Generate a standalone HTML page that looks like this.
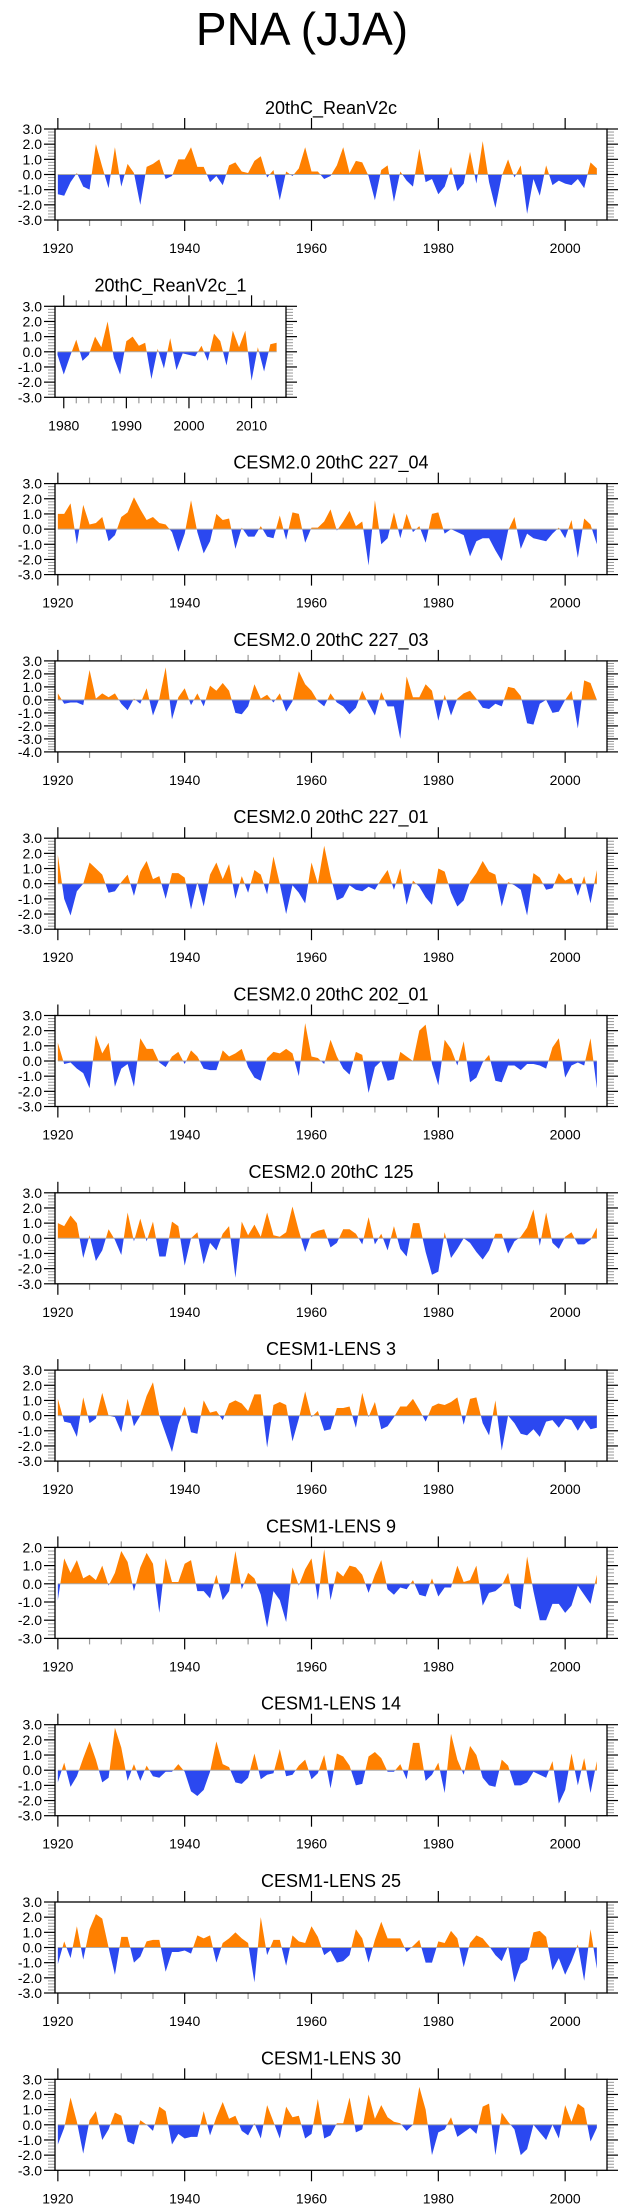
<!DOCTYPE html>
<html><head><meta charset="utf-8"><title>PNA (JJA)</title>
<style>
html,body{margin:0;padding:0;background:#fff;}
svg{display:block;font-family:"Liberation Sans",Arial,sans-serif;}
</style></head>
<body>
<svg id="fig" width="623" height="2209" viewBox="0 0 623 2209">
<text x="302" y="45" font-size="46" text-anchor="middle">PNA (JJA)</text>
</svg>
<script>
const titles = ["20thC_ReanV2c","20thC_ReanV2c_1","CESM2.0 20thC 227_04","CESM2.0 20thC 227_03","CESM2.0 20thC 227_01","CESM2.0 20thC 202_01","CESM2.0 20thC 125","CESM1-LENS 3","CESM1-LENS 9","CESM1-LENS 14","CESM1-LENS 25","CESM1-LENS 30"];
const yMins = [-3,-3,-3,-4,-3,-3,-3,-3,-3,-3,-3,-3];
const yMaxs = [3,3,3,3,3,3,3,3,2,3,3,3];
const startYears = [1920,1979,1920,1920,1920,1920,1920,1920,1920,1920,1920,1920];
const xTicksLong = [1920,1940,1960,1980,2000];
const xTicksShort = [1980,1990,2000,2010];

const s1 = [-1.3,-1.4,-0.5,0.1,-0.8,-1.0,2.0,0.5,-0.9,1.8,-0.8,0.7,0.1,-2.0,0.5,0.7,1.0,-0.3,-0.1,1.0,1.0,1.8,0.5,0.5,-0.5,-0.1,-0.7,0.6,0.8,0.2,0.1,0.9,1.2,-0.2,0.3,-1.7,0.2,-0.1,0.4,1.8,0.2,0.2,-0.3,-0.1,0.6,1.8,0.1,0.9,0.8,-0.1,-1.7,0.3,0.6,-1.8,0.2,-0.4,-0.8,1.7,-0.5,-0.3,-1.3,-0.8,0.5,-1.1,-0.6,1.5,-0.6,2.2,-0.5,-2.2,-0.1,1.0,-0.2,0.6,-2.6,-0.3,-1.4,0.6,-0.7,-0.4,-0.6,-0.7,-0.3,-0.9,0.8,0.4];
const s2 = [-0.2,-1.5,-0.3,0.8,-0.6,-0.2,1.0,0.3,2.0,-0.4,-1.5,0.7,1.0,0.4,0.6,-1.8,0.2,-1.1,0.9,-1.2,-0.1,-0.2,-0.3,0.4,-0.6,1.2,0.7,-0.9,1.4,0.3,1.4,-1.9,0.3,-1.3,0.5,0.6];
const s3 = [1.0,1.0,1.7,-1.0,1.6,0.3,0.4,0.8,-0.8,-0.4,0.8,1.1,2.1,1.3,0.6,0.8,0.4,0.3,-0.2,-1.5,-0.3,1.9,-0.2,-1.6,-0.8,1.0,0.6,0.7,-1.3,0.1,-0.5,-0.5,0.2,-0.5,-0.6,0.9,-0.7,1.1,1.0,-0.9,0.1,0.1,0.5,1.3,-0.1,0.5,1.2,0.2,0.5,-2.4,1.9,-1.0,-0.6,1.1,-0.6,1.0,-0.2,0.2,-0.9,1.0,1.1,-0.3,0.0,-0.2,-0.4,-1.8,-0.8,-0.6,-0.6,-1.4,-2.1,-0.1,0.8,-1.3,-0.3,-0.6,-0.7,-0.8,-0.3,0.1,-0.6,0.6,-1.9,0.7,0.3,-1.0];
const s4 = [0.5,-0.3,-0.2,-0.2,-0.4,2.3,0.1,0.5,0.2,0.5,-0.3,-0.8,0.1,-0.3,0.9,-1.2,0.1,2.5,-1.5,0.2,0.9,-0.4,0.5,-0.5,1.1,0.7,1.3,0.7,-1.0,-1.1,-0.5,1.2,0.1,0.4,-0.2,0.5,-0.9,-0.1,2.2,1.2,0.7,-0.1,-0.5,0.5,-0.2,-0.5,-1.1,-0.6,0.7,-0.3,-1.2,0.6,-0.5,-0.5,-3.0,1.8,0.2,0.2,1.2,0.7,-1.6,0.4,-1.2,0.1,0.5,0.7,0.1,-0.6,-0.7,-0.3,-0.5,1.0,0.9,0.3,-1.8,-1.9,-0.3,0.0,-1.0,-0.9,0.0,0.7,-2.2,1.5,1.3,0.0];
const s5 = [1.9,-1.0,-2.1,-0.5,0.0,1.4,1.0,0.6,-0.6,-0.5,0.1,0.6,-0.8,0.8,1.5,0.3,0.5,-1.0,0.7,0.7,0.4,-1.7,0.1,-1.5,0.6,1.4,0.3,1.3,-1.0,0.5,-0.6,0.9,0.6,-0.7,1.8,0.0,-2.0,-0.1,-0.6,-1.3,1.4,0.0,2.5,0.5,-1.1,-0.9,-0.1,-0.4,-0.5,-0.2,-0.4,0.3,0.9,-0.4,1.0,-1.4,0.2,-0.2,-0.9,-1.4,1.0,0.8,-0.6,-1.5,-1.1,0.1,0.7,1.5,0.8,0.6,-1.5,0.1,-0.1,-0.4,-2.1,0.7,0.4,-0.4,-0.3,0.7,0.2,0.4,-0.8,0.5,-1.3,0.9];
const s6 = [1.2,-0.2,-0.1,-0.5,-0.8,-1.8,1.7,0.5,1.2,-1.7,-0.5,-0.2,-1.7,1.5,0.8,0.8,-0.1,-0.4,0.3,0.6,-0.2,0.7,0.3,-0.5,-0.6,-0.6,0.7,0.3,0.5,0.8,-0.4,-1.1,-1.3,0.2,0.6,0.5,0.8,0.5,-1.0,2.5,0.3,0.2,-0.2,1.4,0.3,-0.5,-0.9,0.6,0.4,-2.1,-0.4,0.0,-1.3,-1.2,0.6,0.3,0.0,2.0,2.4,-0.2,-1.6,1.4,0.8,-0.3,1.3,-1.4,-1.1,-0.1,0.4,-1.3,-1.4,-0.3,-0.3,-0.6,-0.2,-0.2,-0.3,-0.5,0.9,1.5,-1.1,-0.3,-0.1,-0.3,1.5,-1.8];
const s7 = [1.0,0.8,1.5,1.0,-1.3,0.2,-1.5,-0.8,0.6,-0.1,-1.1,1.7,-0.2,1.3,-0.2,1.1,-1.2,-1.2,1.1,0.8,-1.8,0.0,0.4,-1.7,-0.3,-0.8,0.3,0.8,-2.6,1.1,0.2,0.9,0.1,1.7,0.2,0.1,0.4,2.1,0.5,-0.9,0.3,0.5,0.6,-0.6,-0.3,0.6,0.6,0.3,-0.4,1.4,-0.4,0.3,-0.8,0.8,-0.7,-1.2,1.0,1.0,-0.9,-2.4,-2.2,0.4,-1.3,-0.7,0.0,-0.3,-0.9,-1.4,-0.8,0.3,0.3,-1.0,-0.2,0.1,0.7,1.9,-0.5,1.7,-0.3,-0.7,0.1,0.4,-0.4,-0.4,-0.1,0.7];
const s8 = [1.1,-0.4,-0.5,-1.4,1.2,-0.5,-0.2,1.5,0.0,-0.1,-1.1,1.1,-0.7,0.0,1.3,2.2,0.0,-1.2,-2.4,-0.6,0.6,-1.1,-1.2,1.0,0.2,0.3,-0.3,0.8,1.0,0.8,0.3,1.4,1.4,-2.1,0.7,0.9,0.7,-1.7,-0.2,1.6,-0.1,0.3,-1.0,-0.9,0.5,0.5,0.6,-0.8,1.5,-0.1,0.9,-0.9,-0.7,-0.1,0.6,0.6,1.1,0.4,-0.4,0.6,0.8,0.7,0.9,1.2,-0.6,1.1,1.2,-0.5,-1.3,1.0,-2.3,0.0,-0.5,-1.2,-1.3,-0.9,-1.4,-0.4,-0.3,-0.8,-0.2,-0.3,-1.0,-0.3,-0.9,-0.8];
const s9 = [-0.9,1.4,0.6,1.3,0.3,0.5,0.2,1.0,-0.1,0.6,1.8,1.2,-0.4,0.9,1.7,1.1,-1.6,1.4,0.1,0.1,1.1,1.3,-0.4,-0.4,-0.8,0.5,-0.9,-0.4,1.8,-0.3,0.6,0.3,-0.6,-2.4,-0.4,-0.9,-2.1,0.9,-0.1,0.8,1.4,-0.9,1.9,-0.9,0.7,0.4,1.0,0.9,0.5,-0.5,0.5,1.3,-0.3,-0.6,-0.2,-0.3,0.2,-0.6,-0.7,0.3,-0.7,-0.2,-0.2,1.0,0.1,0.2,1.0,-1.2,-0.5,-0.4,-0.1,0.6,-1.2,-1.4,1.5,-0.4,-2.0,-2.0,-1.1,-1.1,-1.6,-1.2,-0.1,-0.6,-1.1,0.5];
const s10 = [-0.8,0.5,-1.1,-0.4,0.8,1.9,0.7,-0.8,-0.5,2.8,1.5,-0.7,0.4,-0.7,0.3,-0.4,-0.5,-0.1,-0.1,0.4,-0.1,-1.4,-1.7,-1.3,-0.1,1.9,0.4,0.2,-0.8,-0.9,-0.5,1.1,-0.6,-0.3,-0.2,1.4,-0.4,-0.3,0.3,0.7,-0.6,-0.2,1.0,-1.2,1.1,0.9,0.3,-1.0,-0.9,0.9,1.2,0.8,-0.1,-0.1,0.4,-0.6,1.8,1.8,-0.7,-0.3,0.5,-1.5,2.4,0.7,-0.3,1.6,1.0,-0.5,-1.0,-1.1,0.7,0.3,-1.0,-1.0,-0.8,-0.1,-0.3,-0.5,0.6,-2.2,-1.3,1.1,-1.0,0.8,-1.5,0.6];
const s11 = [-1.1,0.4,-0.7,1.4,-0.8,1.2,2.2,1.9,0.0,-1.8,0.7,0.7,-1.0,-0.6,0.4,0.5,0.5,-1.6,-0.3,-0.3,-0.2,-0.4,0.8,0.6,0.8,-1.0,0.3,0.6,1.0,0.6,0.3,-2.3,2.0,-0.5,0.5,0.5,-1.2,0.8,0.4,0.3,1.4,0.7,-0.5,-0.2,-1.0,-0.9,-0.5,1.2,0.6,-1.0,0.5,1.7,0.6,0.6,0.6,-0.3,0.1,0.5,-1.0,-1.0,0.4,0.3,1.1,0.6,-1.3,0.3,0.8,0.6,0.1,-0.5,-0.9,0.1,-2.3,-1.1,-0.8,1.0,1.1,0.7,-1.5,-0.7,-1.8,-0.9,0.2,-2.2,1.2,-1.4];
const s12 = [-1.3,-0.2,1.8,0.2,-1.9,0.3,0.9,-1.0,-0.3,0.8,0.6,-1.1,-1.3,0.3,0.0,-0.4,1.2,0.9,-1.3,-0.6,-0.9,-0.8,-0.8,0.9,-0.7,0.5,1.5,0.4,0.6,-0.4,-0.7,0.1,-0.9,1.3,0.2,-0.9,1.2,0.5,0.6,-0.9,-0.6,1.7,-0.9,-0.7,0.1,0.1,1.8,-0.5,-0.3,2.0,0.4,1.3,0.5,0.2,0.1,-0.4,0.0,2.5,1.0,-2.0,-0.5,-0.3,0.5,-0.8,-0.5,-0.2,-0.6,1.2,1.4,-2.0,0.8,0.2,-0.3,-2.0,-1.6,0.0,-0.5,-1.0,0.0,-0.9,1.3,0.2,1.4,1.1,-1.1,-0.2];

const series = [s1,s2,s3,s4,s5,s6,s7,s8,s9,s10,s11,s12];

const NS = "http://www.w3.org/2000/svg";
const svg = document.getElementById("fig");
function mk(tag, attrs, parent){
  const e = document.createElementNS(NS, tag);
  for (const k in attrs) e.setAttribute(k, attrs[k]);
  (parent||svg).appendChild(e);
  return e;
}
const ORANGE = "#ff8000", BLUE = "#2b48f0";

for (let c = 0; c < 12; c++) {
  const top = 129 + c * 177.3;
  const h = 91;
  const bottom = top + h;
  const narrow = (c === 1);
  const left = 55;
  const right = narrow ? 286 : 607;
  const x0 = narrow ? 1978.6 : 1919.55;
  const x1 = narrow ? 2015.5 : 2006.6;
  const yMin = yMins[c], yMax = yMaxs[c];
  const X = yr => left + (yr - x0) / (x1 - x0) * (right - left);
  const Y = v => bottom - (v - yMin) / (yMax - yMin) * h;
  const data = series[c];
  const sy = startYears[c];

  const g = mk("g", {});
  
  

  const t = mk("text", {x: (left + right) / 2, y: top - 15, "font-size": 18, "text-anchor": "middle"}, g);
  t.textContent = titles[c];
  
  

  // clip paths
  const defs = mk("defs", {}, g);
  const cpA = mk("clipPath", {id: "ca" + c}, defs);
  mk("rect", {x: left, y: top, width: right - left, height: Y(0) - top}, cpA);
  const cpB = mk("clipPath", {id: "cb" + c}, defs);
  mk("rect", {x: left, y: Y(0), width: right - left, height: bottom - Y(0)}, cpB);

  let d = "M" + X(sy).toFixed(2) + "," + Y(0).toFixed(2);
  data.forEach((v, i) => { d += " L" + X(sy + i).toFixed(2) + "," + Y(v).toFixed(2); });
  d += " L" + X(sy + data.length - 1).toFixed(2) + "," + Y(0).toFixed(2) + " Z";
  const pa = mk("path", {d: d, fill: ORANGE, "clip-path": "url(#ca" + c + ")"}, g);
  
  
  const pb = mk("path", {d: d, fill: BLUE, "clip-path": "url(#cb" + c + ")"}, g);
  
  

  const zl = mk("line", {x1: X(sy), x2: X(sy + data.length - 1), y1: Y(0), y2: Y(0), stroke: "#aaaaaa", "stroke-width": 1}, g);
  
  

  // y ticks
  for (let v = yMin; v <= yMax + 1e-6; v += 0.2) {
    const major = Math.abs(v - Math.round(v)) < 1e-6;
    const yy = Y(v);
    if (major) {
      mk("line", {x1: left - 11, x2: left, y1: yy, y2: yy, stroke: "#000", "stroke-width": 1.2}, g);
      mk("line", {x1: right, x2: right + 11, y1: yy, y2: yy, stroke: "#000", "stroke-width": 1.2}, g);
      const lb = mk("text", {x: left - 13, y: yy + 5, "font-size": 14, "text-anchor": "end"}, g);
      lb.textContent = Math.round(v).toFixed(1);
      
      
    } else {
      mk("line", {x1: left - 7, x2: left, y1: yy, y2: yy, stroke: "#999", "stroke-width": 1}, g);
      mk("line", {x1: right, x2: right + 7, y1: yy, y2: yy, stroke: "#999", "stroke-width": 1}, g);
    }
  }
  // x ticks
  const majors = narrow ? xTicksShort : xTicksLong;
  const minorStep = narrow ? 2 : 5;
  const startMinor = narrow ? 1980 : 1920;
  for (let yr = startMinor; yr <= x1; yr += minorStep) {
    const xx = X(yr);
    if (majors.indexOf(yr) >= 0) continue;
    mk("line", {x1: xx, x2: xx, y1: top - 6, y2: top, stroke: "#999", "stroke-width": 1.2}, g);
    mk("line", {x1: xx, x2: xx, y1: bottom, y2: bottom + 6, stroke: "#999", "stroke-width": 1.2}, g);
  }
  majors.forEach(yr => {
    const xx = X(yr);
    mk("line", {x1: xx, x2: xx, y1: top - 11, y2: top, stroke: "#000", "stroke-width": 1.2}, g);
    mk("line", {x1: xx, x2: xx, y1: bottom, y2: bottom + 11, stroke: "#000", "stroke-width": 1.2}, g);
    const lb = mk("text", {x: xx, y: bottom + 33, "font-size": 14, "text-anchor": "middle"}, g);
    lb.textContent = String(yr);
    
    
  });

  const fr = mk("rect", {x: left, y: top, width: right - left, height: h, fill: "none", stroke: "#000", "stroke-width": 1.3}, g);
  
  
}
</script>
</body></html>
